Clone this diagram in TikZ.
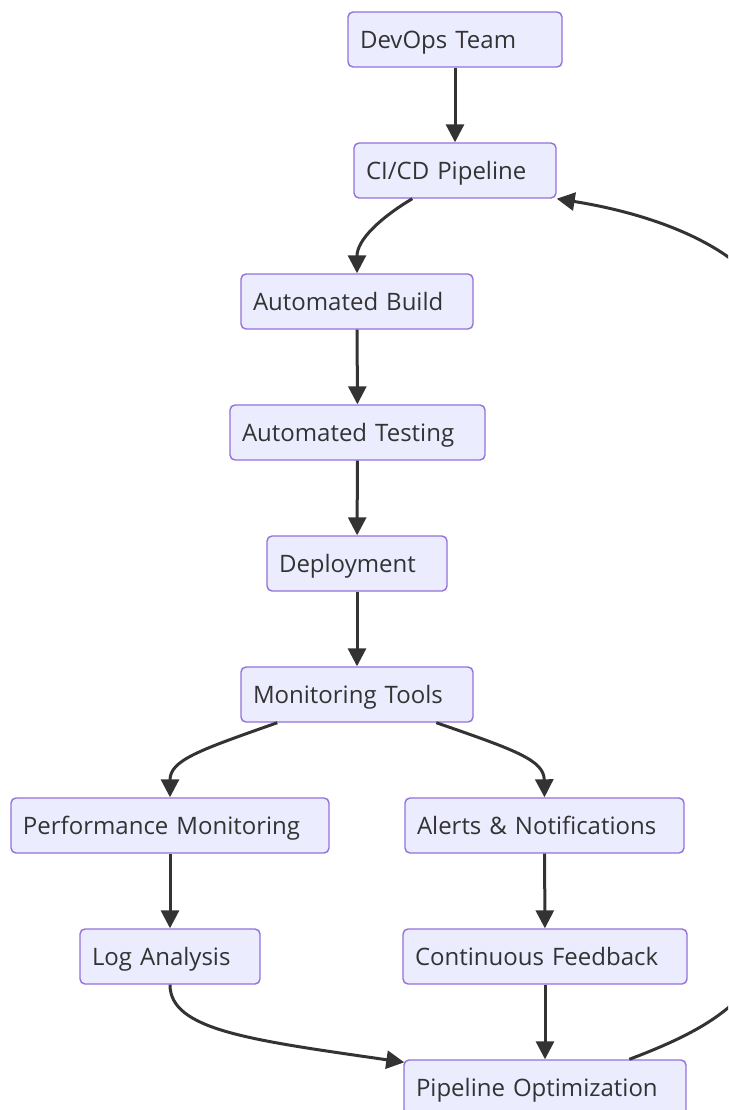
\documentclass[tikz,border=0pt]{standalone}
\usepackage{fontspec}
\setmainfont{Open Sans}
\usetikzlibrary{arrows.meta,calc}
\definecolor{boxfill}{HTML}{ECECFF}
\definecolor{boxline}{HTML}{9370DB}
\definecolor{ink}{HTML}{333333}
\tikzset{
  box/.style={draw=boxline, fill=boxfill, line width=1.4pt, rounded corners=5pt,
    minimum height=55pt, inner xsep=12pt, inner ysep=0pt, align=left,
    text height=23.6pt, text depth=5pt,
    text=ink, font=\fontsize{24}{28}\selectfont},
  link/.style={draw=ink, line width=3pt, -{Triangle[length=18pt,width=18pt]}}
}
\newcommand{\boxnode}[4]{% name, x, y, width
  \node[box, text width=#4pt-24pt] (#1) at (#2,#3)}
\begin{document}
\begin{tikzpicture}[x=1pt,y=-1pt]
  \useasboundingbox (0,0) rectangle (728,1110);
  \clip (0,0) rectangle (728,1110);
  % pipeline stages
  \boxnode{devops}{455}{39.5}{214} {DevOps Team};
  \boxnode{cicd}{455}{170.5}{202} {CI/CD Pipeline};
  \boxnode{build}{357}{301.5}{232} {Automated Build};
  \boxnode{testing}{357.5}{432.5}{255} {Automated Testing};
  \boxnode{deploy}{357}{563.5}{180} {Deployment};
  \boxnode{monitor}{357}{694.5}{232} {Monitoring Tools};
  \boxnode{perf}{170}{825.5}{318} {Performance Monitoring};
  \boxnode{alerts}{544.5}{825.5}{279} {Alerts \& Notifications};
  \boxnode{logs}{170}{956.5}{180} {Log Analysis};
  \boxnode{feedback}{545}{956.5}{284} {Continuous Feedback};
  \boxnode{optim}{545}{1087.5}{282} {Pipeline Optimization};
  % connectors
  \draw[link] (devops) -- (cicd);
  \draw[link] ($(cicd.south west)+(59,0)$) .. controls (380,218) and (357,240) .. (build.north);
  \draw[link] (build) -- (testing);
  \draw[link] (testing) -- (deploy);
  \draw[link] (deploy) -- (monitor);
  \draw[link] ($(monitor.south west)+(37,0)$) .. controls (200,750) and (170,760) .. (perf.north);
  \draw[link] ($(monitor.south west)+(196,0)$) .. controls (515,750) and (544,760) .. (alerts.north);
  \draw[link] (perf) -- (logs);
  \draw[link] (alerts) -- (feedback);
  \draw[link] (logs.south) .. controls (170,1030) and (250,1040) .. ($(optim.north west)+(1,3)$);
  \draw[link] (feedback) -- (optim);
  \draw[link] ($(optim.north west)+(226,0)$) .. controls (720,1025) and (775,990) .. (775,900)
    -- (775,330) .. controls (775,270) and (690,220) .. (cicd.south east);
\end{tikzpicture}
\end{document}
